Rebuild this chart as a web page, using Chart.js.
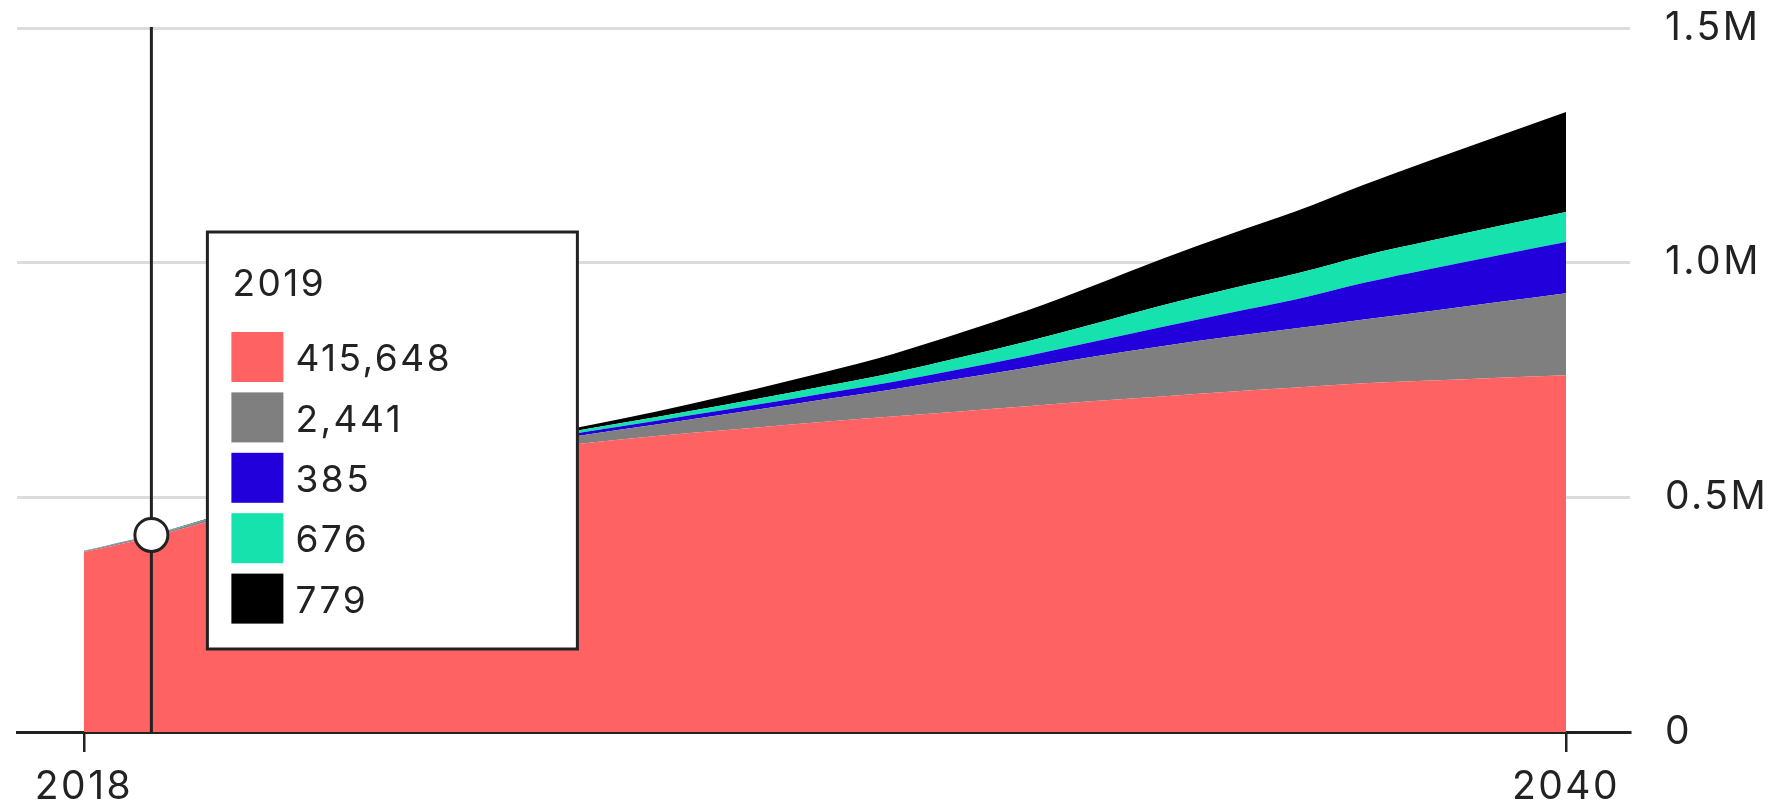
<!DOCTYPE html>
<html>
<head>
<meta charset="utf-8">
<title>Stacked area 2018–2040</title>
<script src="https://cdn.jsdelivr.net/npm/chart.js@4.4.1/dist/chart.umd.min.js"></script>
<style>
  html, body { margin: 0; padding: 0; background: #ffffff; }
  #wrap { width: 1787px; height: 808px; position: relative; }
</style>
</head>
<body>
<div id="wrap"><canvas id="chart" width="1787" height="808"></canvas></div>
<script>
// ---- data ----
const years = [2018, 2019, 2020, 2021, 2022, 2023, 2024, 2025, 2026, 2027, 2028, 2029,
               2030, 2031, 2032, 2033, 2034, 2035, 2036, 2037, 2038, 2039, 2040];

const redValues   = [383500, 415648, 455000, 494000, 530000, 562000, 588000, 608000, 624000, 637000, 649000, 661000,
                     672000, 683000, 694000, 705000, 715000, 725000, 734000, 743000, 749000, 755000, 760000];
const grayValues  = [1500, 2441, 4000, 6000, 8000, 11000, 13500, 16000, 21000, 29000, 38000, 48000,
                     58000, 70000, 82000, 95000, 107000, 117000, 126000, 136000, 148000, 161000, 175000];
const blueValues  = [300, 385, 600, 1000, 1500, 2200, 3200, 5000, 7000, 9000, 11000, 13000,
                     16000, 20000, 25000, 32000, 41000, 51000, 62000, 78000, 90000, 100000, 109000];
const tealValues  = [500, 676, 1000, 1500, 2000, 3000, 4000, 5500, 7000, 9000, 12000, 15000,
                     19000, 25000, 31000, 38000, 46000, 51000, 55000, 58000, 60000, 62000, 64000];
const blackValues = [600, 779, 1000, 1500, 2000, 3000, 4000, 5000, 9000, 15000, 22000, 30000,
                     40000, 52000, 66000, 82000, 99000, 116000, 133000, 151000, 172000, 192000, 213000];

const seriesColors = ['#ff6262', '#7f7f7f', '#2200dc', '#16e2ad', '#000000'];

const xTickYears = [2018, 2040];
const yTickValues = [0, 500000, 1000000, 1500000];

// year highlighted by the guide line and the value box
const focusYear = 2019;

// ---- chart ----
const seriesList = [redValues, grayValues, blueValues, tealValues, blackValues];
const focusIndex = years.indexOf(focusYear);

const fontFamily = 'Inter, "Liberation Sans", Arial, sans-serif';
const textColor = '#222222';

const datasets = seriesList.map((vals, i) => ({
  label: 'series ' + (i + 1),
  data: years.map((yr, j) => ({ x: yr, y: vals[j] })),
  backgroundColor: seriesColors[i],
  borderColor: seriesColors[i],
  borderWidth: 0,
  pointRadius: 0,
  pointHoverRadius: 0,
  cubicInterpolationMode: 'monotone',
  fill: i === 0 ? 'origin' : '-1'
}));

// slightly wider tracking for all chart text
const trackingPlugin = {
  id: 'tracking',
  beforeDraw(chart) { chart.ctx.letterSpacing = '2.5px'; }
};

// guide line, marker and value box for the focus year
const focusPlugin = {
  id: 'focusYear',
  afterDraw(chart) {
    const { ctx, chartArea } = chart;
    const xs = chart.scales.x, ys = chart.scales.y;
    const px = xs.getPixelForValue(years[focusIndex]);
    const total = seriesList.reduce((s, vals) => s + vals[focusIndex], 0);
    const py = ys.getPixelForValue(total);

    ctx.save();
    ctx.strokeStyle = textColor;
    ctx.lineWidth = 3;
    ctx.beginPath();
    ctx.moveTo(px, chartArea.top - 1);
    ctx.lineTo(px, chartArea.bottom);
    ctx.stroke();

    ctx.beginPath();
    ctx.arc(px, py, 16.5, 0, Math.PI * 2);
    ctx.fillStyle = '#ffffff';
    ctx.fill();
    ctx.stroke();

    // value box
    const bx = px + 56, by = chartArea.top + 204, bw = 370, bh = 417;
    ctx.fillStyle = '#ffffff';
    ctx.fillRect(bx, by, bw, bh);
    ctx.lineWidth = 3;
    ctx.strokeStyle = textColor;
    ctx.strokeRect(bx, by, bw, bh);

    ctx.fillStyle = textColor;
    ctx.textBaseline = 'middle';
    ctx.textAlign = 'left';
    ctx.letterSpacing = '2.5px';
    ctx.font = '37px ' + fontFamily;
    ctx.fillText(String(years[focusIndex]), bx + 25, by + 53);

    const pitch = 60.4;
    seriesList.forEach((vals, i) => {
      const sy = by + 100 + i * pitch;
      ctx.fillStyle = seriesColors[i];
      ctx.fillRect(bx + 24, sy, 52, 50);
      ctx.fillStyle = textColor;
      ctx.fillText(vals[focusIndex].toLocaleString('en-US'), bx + 88, sy + 28);
    });
    ctx.restore();
  }
};

new Chart(document.getElementById('chart'), {
  type: 'line',
  data: { datasets },
  plugins: [trackingPlugin, focusPlugin],
  options: {
    responsive: false,
    animation: false,
    devicePixelRatio: 1,
    layout: { padding: { top: 28, left: 17, right: 0, bottom: 0 } },
    plugins: {
      legend: { display: false },
      tooltip: { enabled: false }
    },
    events: [],
    scales: {
      x: {
        type: 'linear',
        min: 2017.005,
        max: 2040.95,
        z: 1,
        afterBuildTicks: (s) => { s.ticks = xTickYears.map(v => ({ value: v })); },
        afterFit: (s) => { s.height = 76; s.paddingLeft = 0; s.paddingRight = 0; },
        grid: {
          display: true,
          drawOnChartArea: false,
          drawTicks: true,
          tickLength: 20,
          color: textColor,
          lineWidth: 2.5
        },
        border: { display: true, color: textColor, width: 3 },
        ticks: {
          autoSkip: false,
          maxRotation: 0,
          padding: 12,
          color: textColor,
          font: { family: fontFamily, size: 39 },
          callback: (v) => String(v)
        }
      },
      y: {
        position: 'right',
        stacked: true,
        min: 0,
        max: 1500000,
        afterBuildTicks: (s) => { s.ticks = yTickValues.map(v => ({ value: v })); },
        afterFit: (s) => { s.width = 157; s.paddingTop = 0; s.paddingBottom = 0; },
        grid: {
          drawTicks: false,
          color: (c) => (c.tick && c.tick.value === 0) ? 'rgba(0,0,0,0)' : '#dcdcdc',
          lineWidth: 3
        },
        border: { display: false },
        ticks: {
          padding: 35,
          color: textColor,
          font: { family: fontFamily, size: 39 },
          callback: (v) => v === 0 ? '0' : (v / 1000000).toFixed(1) + 'M'
        }
      }
    }
  }
});
</script>
</body>
</html>
